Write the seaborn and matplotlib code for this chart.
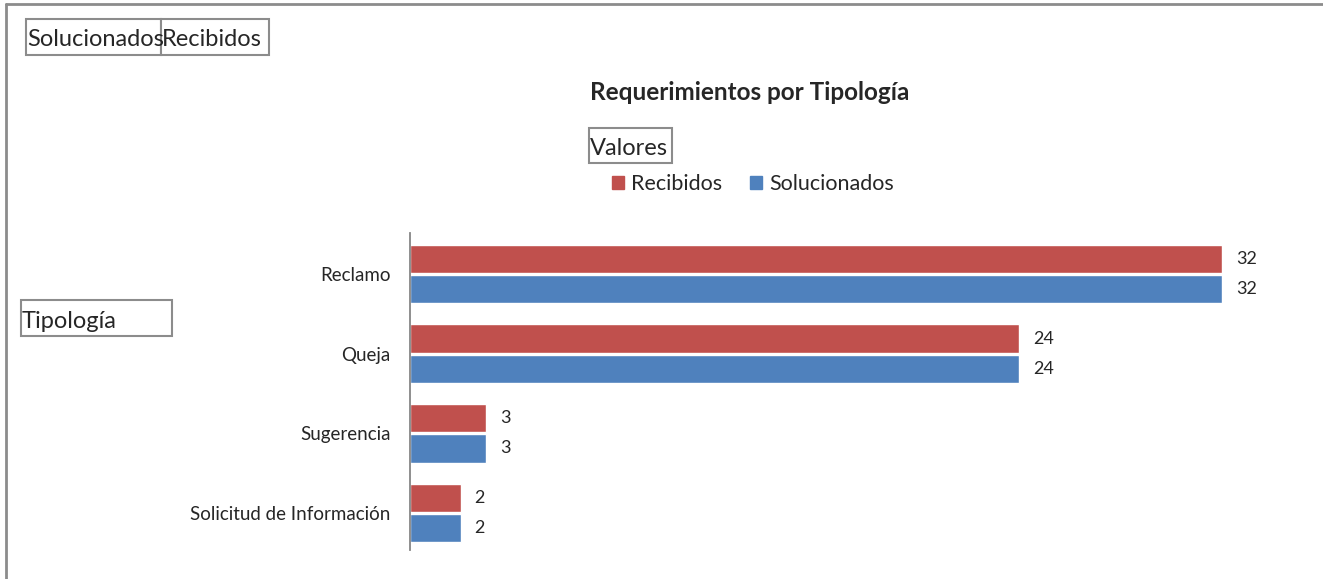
import pandas as pd
import matplotlib
matplotlib.use("Agg")
import matplotlib.pyplot as plt
import seaborn as sns
from matplotlib.lines import Line2D
from matplotlib.patches import Rectangle

# datos
tipologias = ["Reclamo", "Queja", "Sugerencia", "Solicitud de Información"]
recibidos = [32, 24, 3, 2]
solucionados = [32, 24, 3, 2]
series = ["Recibidos", "Solucionados"]
colores = ["#C0504D", "#4F81BD"]

df = pd.DataFrame({
    "Tipología": tipologias * 2,
    "Valores": recibidos + solucionados,
    "Serie": [series[0]] * len(tipologias) + [series[1]] * len(tipologias),
})

sns.set_style("white")
plt.rcParams["font.family"] = ["Lato", "DejaVu Sans"]

W, H = 1323, 579
fig = plt.figure(figsize=(W / 100, H / 100), dpi=100)
ax = fig.add_axes([410 / W, 1 - 550 / H, 812 / W, 317 / H])

sns.barplot(data=df, y="Tipología", x="Valores", hue="Serie", order=tipologias,
            hue_order=series, palette=colores, orient="h", width=0.76, gap=0.06,
            saturation=1, ax=ax, legend=False)

ax.set_xlim(0, 32)
ax.set_ylim(3.465, -0.515)
ax.set_xlabel("")
ax.set_ylabel("")
ax.set_xticks([])
for s in ["top", "right", "bottom"]:
    ax.spines[s].set_visible(False)
ax.spines["left"].set_color("#868686")
ax.spines["left"].set_linewidth(1.3)
ax.tick_params(axis="y", length=0, pad=14, labelsize=13.5)

# etiquetas de valores
for cont in ax.containers:
    ax.bar_label(cont, padding=10, fontsize=13, clip_on=False)

# titulo
fig.text(750 / W, 1 - 93 / H, "Requerimientos por Tipología", ha="center",
         va="center", fontsize=17.5, fontweight="bold")

# leyenda
handles = [plt.Rectangle((0, 0), 1, 1, color=c) for c in colores]
fig.legend(handles, series, loc="center", bbox_to_anchor=(753 / W, 1 - 184 / H),
           ncol=2, frameon=False, fontsize=15.5, handlelength=0.55, handleheight=0.55,
           handletextpad=0.35, columnspacing=1.3, borderpad=0)


# botones de campo (tabla dinamica)
def boton(x0, x1, y0, y1, texto):
    fig.add_artist(Rectangle((x0 / W, 1 - y1 / H), (x1 - x0) / W, (y1 - y0) / H,
                             transform=fig.transFigure, fc="white", ec="#8C8C8C", lw=1.5))
    fig.text((x0 + 1) / W, 1 - ((y0 + y1) / 2 + 3) / H, texto, ha="left", va="center",
             fontsize=17)


boton(26, 161, 19, 55, "Solucionados")
boton(161, 269, 19, 55, "Recibidos")
boton(589, 672, 128, 163, "Valores")
boton(21, 172, 300, 336, "Tipología")

# borde del grafico
fig.add_artist(Line2D([6 / W, 1], [1 - 4 / H, 1 - 4 / H], color="#8C8C8C", lw=2))
fig.add_artist(Line2D([6 / W, 6 / W], [0, 1 - 4 / H], color="#8C8C8C", lw=2))

fig.savefig("out.png", dpi=100)
